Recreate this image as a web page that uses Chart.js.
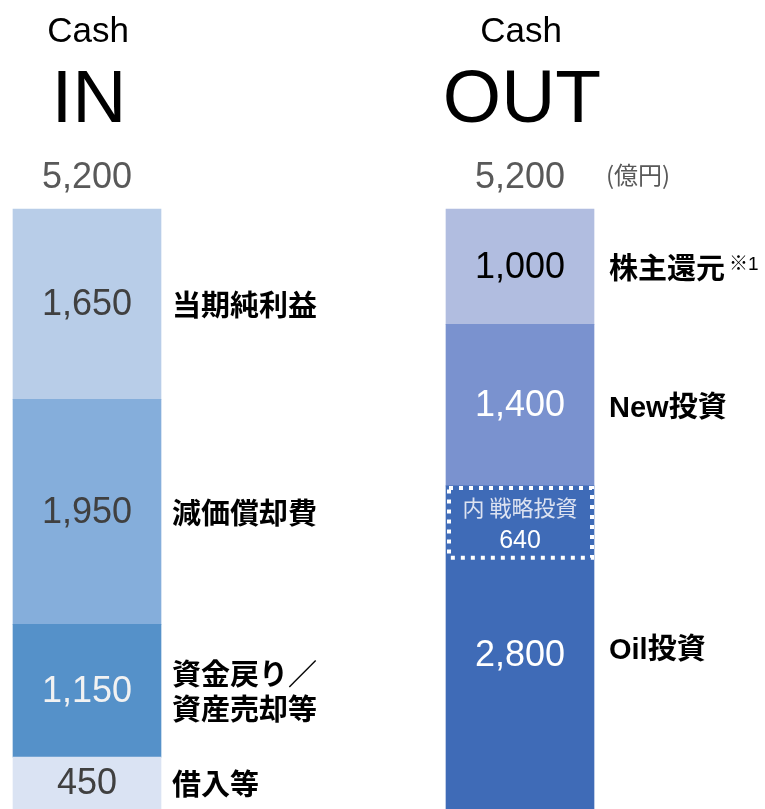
<!DOCTYPE html>
<html>
<head>
<meta charset="utf-8">
<script src="https://cdn.jsdelivr.net/npm/chart.js@4/dist/chart.umd.min.js"></script>
<style>
html,body{margin:0;padding:0;background:#fff;}
#wrap{width:765px;height:809px;}
</style>
</head>
<body>
<div id="wrap"><canvas id="c" width="765" height="809"></canvas></div>
<script>
// ---- data ----
const columnTitles = ['IN', 'OUT'];
const columnPrefix = 'Cash';
const unitLabel = '(億円)';

const inLabels = ['借入等', '資金戻り／\n資産売却等', '減価償却費', '当期純利益'];
const inValues = [450, 1150, 1950, 1650];
const inColors = ['#dae3f3', '#5591c9', '#85aedb', '#b8cde8'];
const inTextColors = ['#404040', '#f2f2f2', '#404040', '#404040'];

const outLabels = ['Oil投資', 'New投資', '株主還元'];
const outNotes = ['', '', '※1'];
const outValues = [2800, 1400, 1000];
const outColors = ['#3f6bb7', '#7a92cf', '#b1bde0'];
const outTextColors = ['#ffffff', '#ffffff', '#000000'];

const strategicLabel = '内 戦略投資';
const strategicValue = 640;

const fmt = v => v.toLocaleString('en-US');
const LATIN = '"Liberation Sans", Arial, "Noto Sans CJK JP"';

const datasets = [];
inValues.forEach((v, i) => datasets.push({
  data: [v, null], backgroundColor: inColors[i], borderWidth: 0, stack: 's', clip: false,
  _label: inLabels[i], _tc: inTextColors[i], _idx: 0, _note: ''
}));
outValues.forEach((v, i) => datasets.push({
  data: [null, v], backgroundColor: outColors[i], borderWidth: 0, stack: 's', clip: false,
  _label: outLabels[i], _tc: outTextColors[i], _idx: 1, _note: outNotes[i]
}));

const textPlugin = {
  id: 'texts',
  afterDatasetsDraw(chart) {
    const ctx = chart.ctx;
    const xs = chart.scales.x, ys = chart.scales.y;
    ctx.save();
    // strategic box inside Oil segment
    {
      const el = chart.getDatasetMeta(inValues.length).data[1];
      const top = ys.getPixelForValue(outValues[0]);
      const bot = ys.getPixelForValue(outValues[0] - strategicValue);
      const l = el.x - el.width / 2, r = el.x + el.width / 2;
      ctx.strokeStyle = '#ffffff';
      ctx.lineWidth = 4;
      ctx.setLineDash([4, 6]);
      ctx.strokeRect(l + 3, top + 2, (r - l) - 5, (bot - top) - 4);
      ctx.setLineDash([]);
      const cy = (top + bot) / 2;
      ctx.textAlign = 'center';
      ctx.textBaseline = 'middle';
      ctx.fillStyle = '#dde3f1';
      ctx.font = '22px "Noto Sans CJK JP"';
      ctx.fillText(strategicLabel, el.x, cy - 15);
      ctx.fillStyle = '#ffffff';
      ctx.font = '25px ' + LATIN;
      ctx.fillText(fmt(strategicValue), el.x, cy + 18);
    }
    // segment labels
    chart.data.datasets.forEach((ds, di) => {
      const el = chart.getDatasetMeta(di).data[ds._idx];
      if (!el) return;
      const cy = (el.y + el.base) / 2 + 1;
      const v = ds.data[ds._idx];
      let vy = cy;
      if (ds._idx === 1 && di === inValues.length) vy = cy + 8;
      ctx.textAlign = 'center';
      ctx.textBaseline = 'middle';
      ctx.fillStyle = ds._tc;
      ctx.font = '36px ' + LATIN;
      ctx.fillText(fmt(v), el.x, vy);
      // category label
      const lx = el.x + el.width / 2 + (ds._idx === 0 ? 11 : 15);
      ctx.textAlign = 'left';
      ctx.fillStyle = '#000000';
      ctx.font = 'bold 29px ' + LATIN;
      const lines = ds._label.split('\n');
      const lh = 35;
      lines.forEach((ln, k) => {
        const y = cy + (k - (lines.length - 1) / 2) * lh + 3;
        ctx.fillText(ln, lx, y);
        if (k === 0 && ds._note) {
          const w = ctx.measureText(ln).width;
          ctx.font = '19px ' + LATIN;
          ctx.textBaseline = 'alphabetic';
          ctx.fillText(ds._note, lx + w + 4, y - 1);
          ctx.textBaseline = 'middle';
          ctx.font = 'bold 29px ' + LATIN;
        }
      });
    });
    // column titles and totals
    const totals = [inValues.reduce((a, b) => a + b, 0), outValues.reduce((a, b) => a + b, 0)];
    columnTitles.forEach((t, i) => {
      const x = xs.getPixelForValue(i);
      ctx.textAlign = 'center';
      ctx.textBaseline = 'alphabetic';
      ctx.fillStyle = '#000000';
      ctx.font = '35px ' + LATIN;
      ctx.fillText(columnPrefix, x + 1, 42);
      ctx.font = '75px ' + LATIN;
      ctx.fillText(t, x + 2, 122);
      ctx.fillStyle = '#595959';
      ctx.font = '36px ' + LATIN;
      ctx.fillText(fmt(totals[i]), x, 188);
    });
    // unit
    ctx.textAlign = 'left';
    ctx.fillStyle = '#595959';
    ctx.font = '24px "Noto Sans CJK JP"';
    ctx.fillText(unitLabel, 606, 184);
    ctx.restore();
  }
};

new Chart(document.getElementById('c'), {
  type: 'bar',
  data: { labels: columnTitles, datasets },
  options: {
    responsive: false,
    animation: false,
    devicePixelRatio: 1,
    layout: { padding: { left: 87, right: 245, top: 209, bottom: 0 } },
    plugins: { legend: { display: false }, tooltip: { enabled: false } },
    datasets: { bar: { barThickness: 148 } },
    scales: {
      x: { type: 'category', offset: false, stacked: true, display: false },
      y: { min: 0, max: 5200, stacked: true, display: false }
    }
  },
  plugins: [textPlugin]
});
</script>
</body>
</html>
